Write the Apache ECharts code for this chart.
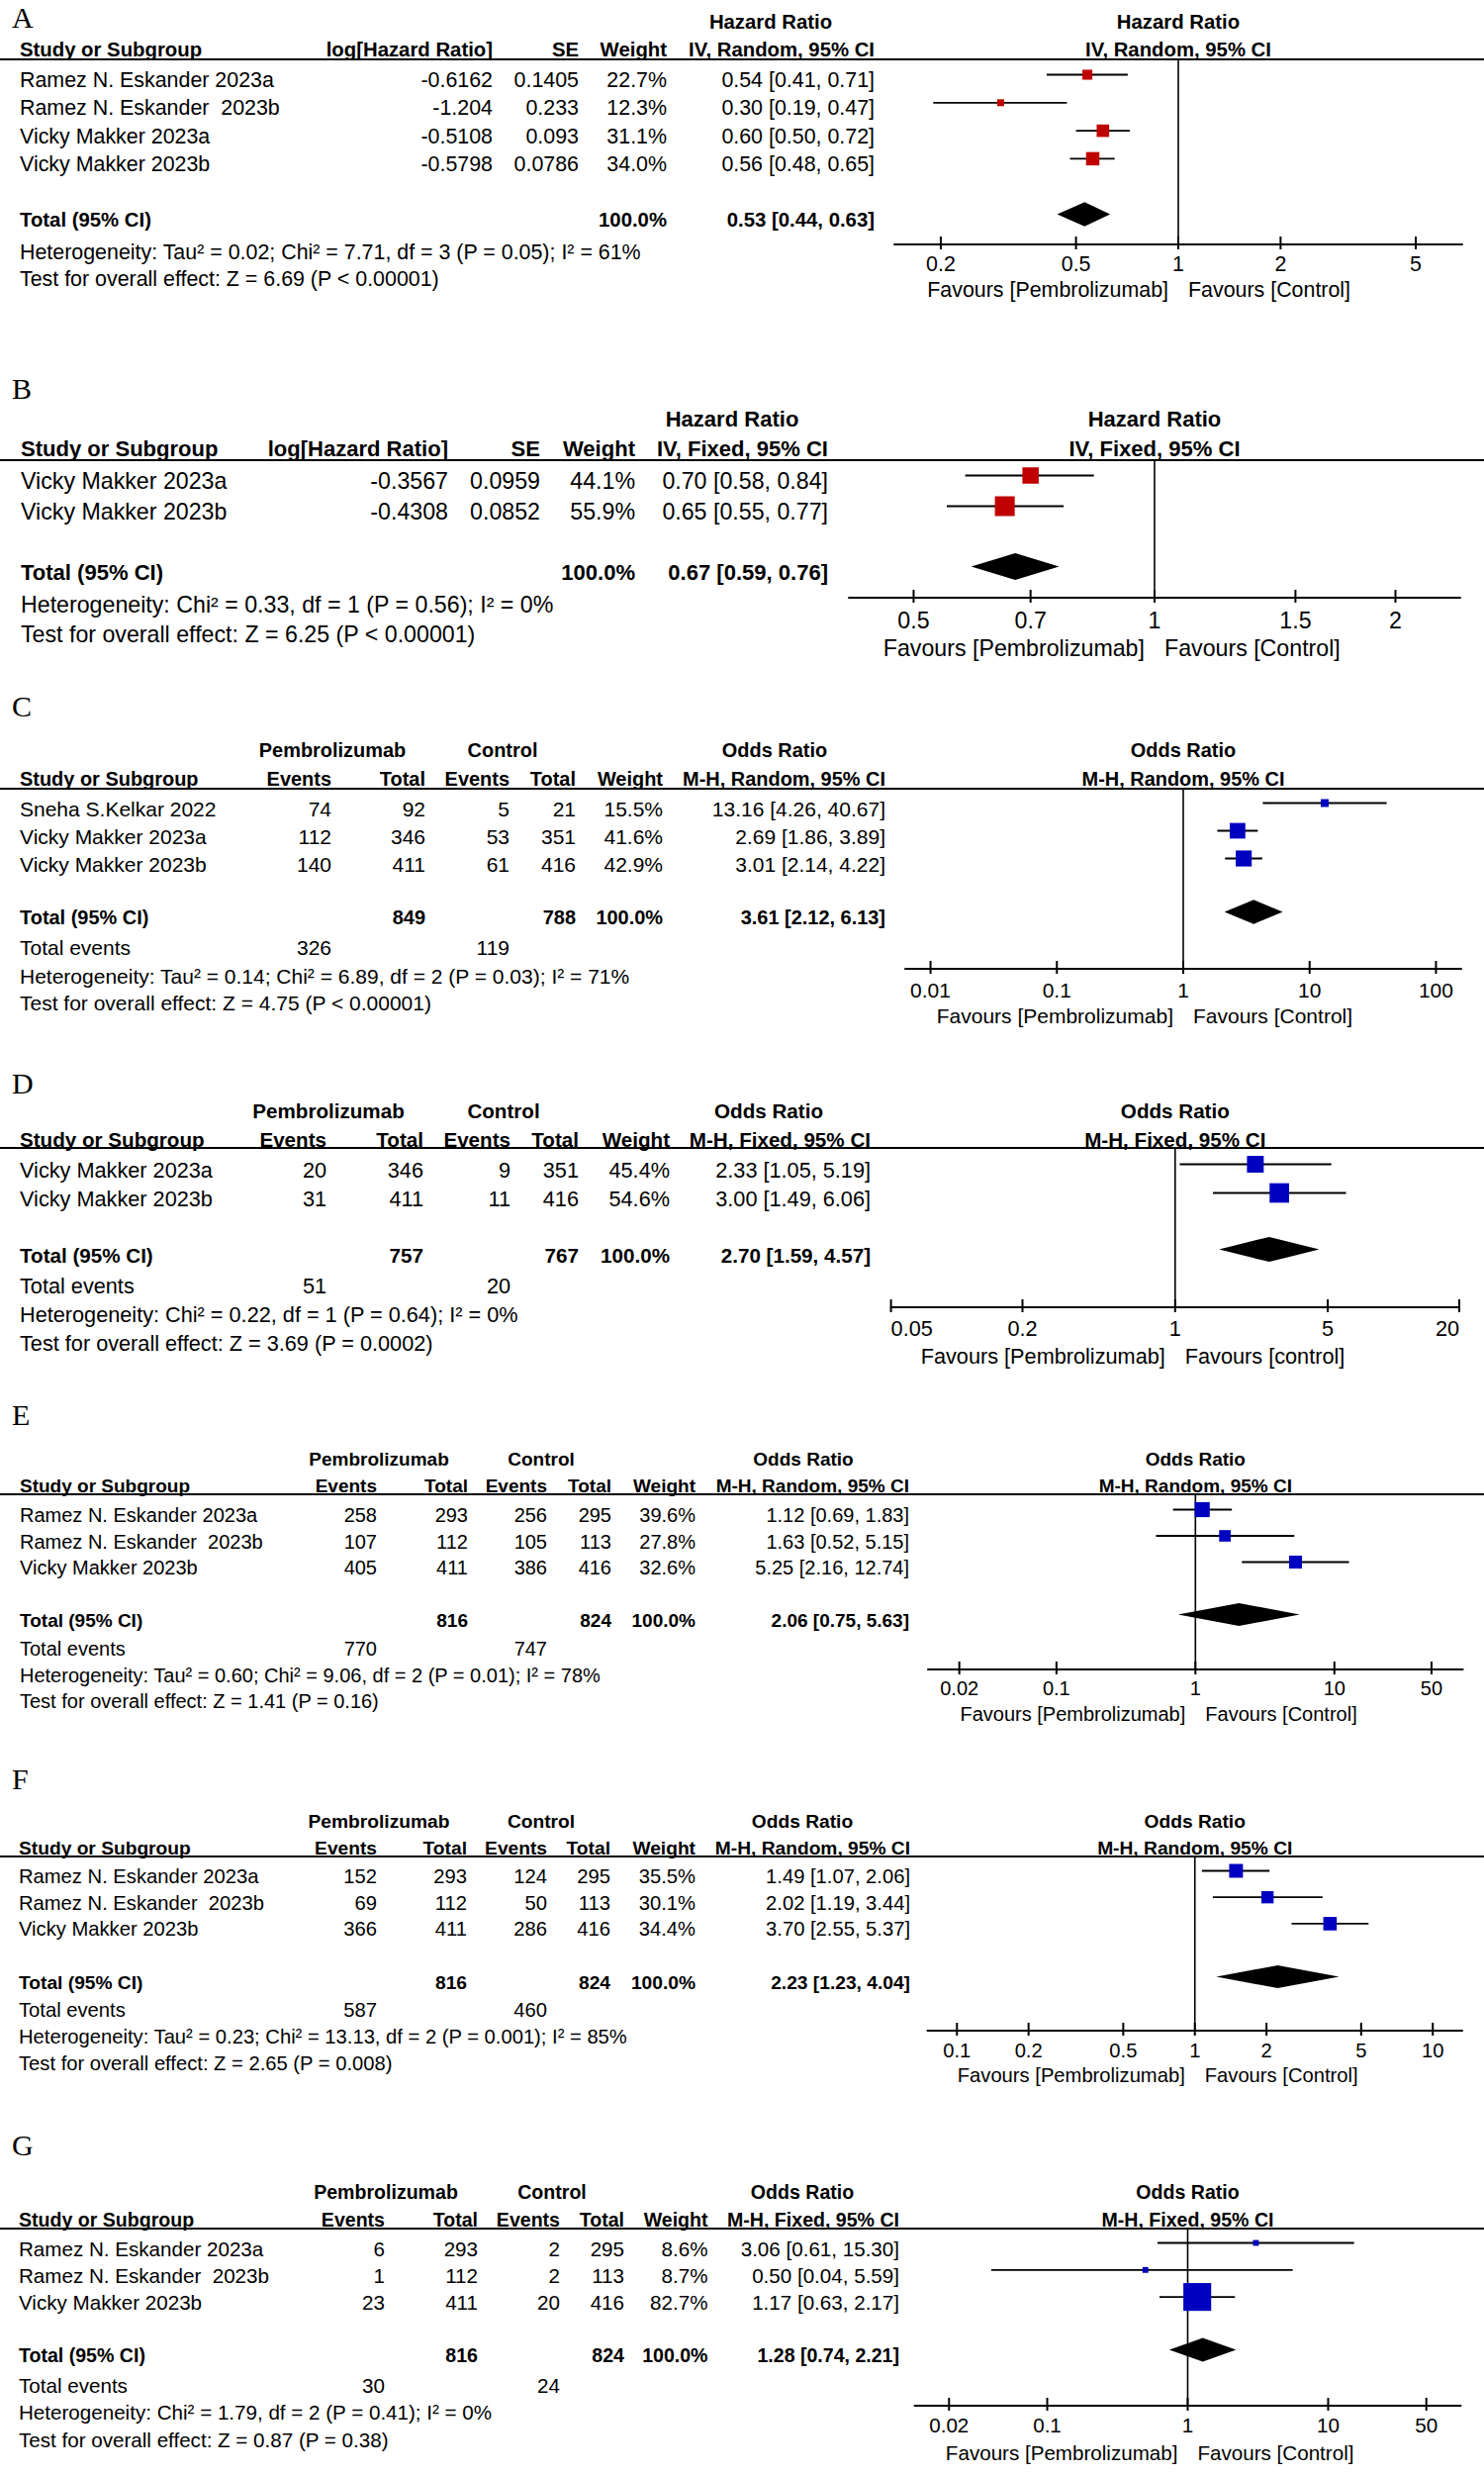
<!DOCTYPE html>
<html>
<head>
<meta charset="utf-8">
<script src="https://cdn.jsdelivr.net/npm/echarts/dist/echarts.min.js"></script>
<style>
html,body{margin:0;padding:0;background:#fff;}
#chart{width:1500px;height:2500px;}
</style>
</head>
<body>
<div id="chart"></div>
<script>
// ================= DATA =================
// Panel A
const A_names = ['Ramez N. Eskander 2023a', 'Ramez N. Eskander  2023b', 'Vicky Makker 2023a', 'Vicky Makker 2023b'];
const A_logHR = [-0.6162, -1.204, -0.5108, -0.5798];
const A_se = [0.1405, 0.233, 0.093, 0.0786];
const A_weight = [22.7, 12.3, 31.1, 34.0];
const A_est = [0.54, 0.30, 0.60, 0.56];
const A_lo = [0.41, 0.19, 0.50, 0.48];
const A_hi = [0.71, 0.47, 0.72, 0.65];
const A_total = [0.53, 0.44, 0.63];
const A_het = 'Heterogeneity: Tau² = 0.02; Chi² = 7.71, df = 3 (P = 0.05); I² = 61%';
const A_test = 'Test for overall effect: Z = 6.69 (P < 0.00001)';
const A_ticks = [0.2, 0.5, 1, 2, 5];
const A_tickLabels = ['0.2', '0.5', '1', '2', '5'];

// Panel B
const B_names = ['Vicky Makker 2023a', 'Vicky Makker 2023b'];
const B_logHR = [-0.3567, -0.4308];
const B_se = [0.0959, 0.0852];
const B_weight = [44.1, 55.9];
const B_est = [0.70, 0.65];
const B_lo = [0.58, 0.55];
const B_hi = [0.84, 0.77];
const B_total = [0.67, 0.59, 0.76];
const B_het = 'Heterogeneity: Chi² = 0.33, df = 1 (P = 0.56); I² = 0%';
const B_test = 'Test for overall effect: Z = 6.25 (P < 0.00001)';
const B_ticks = [0.5, 0.7, 1, 1.5, 2];
const B_tickLabels = ['0.5', '0.7', '1', '1.5', '2'];

// Panel C
const C_names = ['Sneha S.Kelkar 2022', 'Vicky Makker 2023a', 'Vicky Makker 2023b'];
const C_ev1 = [74, 112, 140];
const C_tot1 = [92, 346, 411];
const C_ev2 = [5, 53, 61];
const C_tot2 = [21, 351, 416];
const C_weight = [15.5, 41.6, 42.9];
const C_est = [13.16, 2.69, 3.01];
const C_lo = [4.26, 1.86, 2.14];
const C_hi = [40.67, 3.89, 4.22];
const C_sumTot = [849, 788];
const C_sumEv = [326, 119];
const C_total = [3.61, 2.12, 6.13];
const C_het = 'Heterogeneity: Tau² = 0.14; Chi² = 6.89, df = 2 (P = 0.03); I² = 71%';
const C_test = 'Test for overall effect: Z = 4.75 (P < 0.00001)';
const C_ticks = [0.01, 0.1, 1, 10, 100];
const C_tickLabels = ['0.01', '0.1', '1', '10', '100'];

// Panel D
const D_names = ['Vicky Makker 2023a', 'Vicky Makker 2023b'];
const D_ev1 = [20, 31];
const D_tot1 = [346, 411];
const D_ev2 = [9, 11];
const D_tot2 = [351, 416];
const D_weight = [45.4, 54.6];
const D_est = [2.33, 3.00];
const D_lo = [1.05, 1.49];
const D_hi = [5.19, 6.06];
const D_sumTot = [757, 767];
const D_sumEv = [51, 20];
const D_total = [2.70, 1.59, 4.57];
const D_het = 'Heterogeneity: Chi² = 0.22, df = 1 (P = 0.64); I² = 0%';
const D_test = 'Test for overall effect: Z = 3.69 (P = 0.0002)';
const D_ticks = [0.05, 0.2, 1, 5, 20];
const D_tickLabels = ['0.05', '0.2', '1', '5', '20'];

// Panel E
const E_names = ['Ramez N. Eskander 2023a', 'Ramez N. Eskander  2023b', 'Vicky Makker 2023b'];
const E_ev1 = [258, 107, 405];
const E_tot1 = [293, 112, 411];
const E_ev2 = [256, 105, 386];
const E_tot2 = [295, 113, 416];
const E_weight = [39.6, 27.8, 32.6];
const E_est = [1.12, 1.63, 5.25];
const E_lo = [0.69, 0.52, 2.16];
const E_hi = [1.83, 5.15, 12.74];
const E_sumTot = [816, 824];
const E_sumEv = [770, 747];
const E_total = [2.06, 0.75, 5.63];
const E_het = 'Heterogeneity: Tau² = 0.60; Chi² = 9.06, df = 2 (P = 0.01); I² = 78%';
const E_test = 'Test for overall effect: Z = 1.41 (P = 0.16)';
const E_ticks = [0.02, 0.1, 1, 10, 50];
const E_tickLabels = ['0.02', '0.1', '1', '10', '50'];

// Panel F
const F_names = ['Ramez N. Eskander 2023a', 'Ramez N. Eskander  2023b', 'Vicky Makker 2023b'];
const F_ev1 = [152, 69, 366];
const F_tot1 = [293, 112, 411];
const F_ev2 = [124, 50, 286];
const F_tot2 = [295, 113, 416];
const F_weight = [35.5, 30.1, 34.4];
const F_est = [1.49, 2.02, 3.70];
const F_lo = [1.07, 1.19, 2.55];
const F_hi = [2.06, 3.44, 5.37];
const F_sumTot = [816, 824];
const F_sumEv = [587, 460];
const F_total = [2.23, 1.23, 4.04];
const F_het = 'Heterogeneity: Tau² = 0.23; Chi² = 13.13, df = 2 (P = 0.001); I² = 85%';
const F_test = 'Test for overall effect: Z = 2.65 (P = 0.008)';
const F_ticks = [0.1, 0.2, 0.5, 1, 2, 5, 10];
const F_tickLabels = ['0.1', '0.2', '0.5', '1', '2', '5', '10'];

// Panel G
const G_names = ['Ramez N. Eskander 2023a', 'Ramez N. Eskander  2023b', 'Vicky Makker 2023b'];
const G_ev1 = [6, 1, 23];
const G_tot1 = [293, 112, 411];
const G_ev2 = [2, 2, 20];
const G_tot2 = [295, 113, 416];
const G_weight = [8.6, 8.7, 82.7];
const G_est = [3.06, 0.50, 1.17];
const G_lo = [0.61, 0.04, 0.63];
const G_hi = [15.30, 5.59, 2.17];
const G_sumTot = [816, 824];
const G_sumEv = [30, 24];
const G_total = [1.28, 0.74, 2.21];
const G_het = 'Heterogeneity: Chi² = 1.79, df = 2 (P = 0.41); I² = 0%';
const G_test = 'Test for overall effect: Z = 0.87 (P = 0.38)';
const G_ticks = [0.02, 0.1, 1, 10, 50];
const G_tickLabels = ['0.02', '0.1', '1', '10', '50'];

// ================= STYLE / LAYOUT =================
const RED = '#c00000', BLUE = '#0000c0';
const FONT = 'Liberation Sans, Arial, Helvetica, sans-serif';
const SERIF = 'Liberation Serif, Times New Roman, serif';
const FAV_P = 'Favours [Pembrolizumab]';
const BOLD_SCALE = 0.95;

const LAYOUT = {
  A: {font: 21.4, titleY: 17, rowY0: 81, rowH: 28.3, lineY: 60, axisY: 247, x0: 904, x1: 1478, xMin: 0.146, xMax: 6.85,
      yH1: 22, yH2: 50, yTotal: 222, yHet: 255, yTest: 282, tickDy: 20, favDy: 46,
      cols: {name: 20, c1: 498, c2: 585, weight: 674, ci: 884, hdr: 779}},
  B: {font: 23.2, titleY: 392, rowY0: 486, rowH: 31, lineY: 465, axisY: 604, x0: 858, x1: 1476, xMin: 0.415, xMax: 2.41,
      yH1: 423, yH2: 453, yTotal: 578, yHet: 611, yTest: 641, tickDy: 23, favDy: 51,
      cols: {name: 21, c1: 453, c2: 546, weight: 642, ci: 837, hdr: 740}},
  C: {font: 21, titleY: 713, rowY0: 817, rowH: 28, lineY: 797, axisY: 979, x0: 915, x1: 1477, xMin: 0.00631, xMax: 158.5,
      yH1: 758, yH2: 787, yTotal: 927, yEv: 957, yHet: 986, yTest: 1013, tickDy: 21, favDy: 47,
      cols: {name: 20, e1: 335, t1: 430, e2: 515, t2: 582, weight: 670, ci: 895, hP: 336, hC: 508, hOR: 783}},
  D: {font: 21.7, titleY: 1094, rowY0: 1182, rowH: 29, lineY: 1160, axisY: 1321, x0: 900.6, x1: 1475, xMin: 0.05, xMax: 20,
      yH1: 1122, yH2: 1151, yTotal: 1268, yEv: 1299, yHet: 1328, yTest: 1357, tickDy: 21, favDy: 49,
      cols: {name: 20, e1: 330, t1: 428, e2: 516, t2: 585, weight: 677, ci: 880, hP: 332, hC: 509, hOR: 777}},
  E: {font: 20, titleY: 1429, rowY0: 1531, rowH: 26.5, lineY: 1510, axisY: 1687, x0: 938, x1: 1478.6, xMin: 0.0119, xMax: 84,
      yH1: 1474, yH2: 1501, yTotal: 1637, yEv: 1666, yHet: 1693, yTest: 1719, tickDy: 19, favDy: 45,
      cols: {name: 20, e1: 381, t1: 473, e2: 553, t2: 618, weight: 703, ci: 919, hP: 383, hC: 547, hOR: 812}},
  F: {font: 20.2, titleY: 1797, rowY0: 1896, rowH: 26.7, lineY: 1876, axisY: 2052, x0: 937.5, x1: 1478, xMin: 0.0752, xMax: 13.3,
      yH1: 1840, yH2: 1867, yTotal: 2003, yEv: 2031, yHet: 2058, yTest: 2085, tickDy: 20, favDy: 45,
      cols: {name: 19, e1: 381, t1: 472, e2: 553, t2: 617, weight: 703, ci: 920, hP: 383, hC: 547, hOR: 811}},
  G: {font: 20.6, titleY: 2167, rowY0: 2272, rowH: 27.3, lineY: 2252, axisY: 2431, x0: 924.5, x1: 1476.5, xMin: 0.01138, xMax: 87.9,
      yH1: 2215, yH2: 2243, yTotal: 2380, yEv: 2410, yHet: 2437, yTest: 2465, tickDy: 19, favDy: 47,
      cols: {name: 19, e1: 389, t1: 483, e2: 566, t2: 631, weight: 715.5, ci: 909, hP: 390, hC: 558, hOR: 811}}
};

const panels = [
  {id: 'A', kind: 'HR', color: RED, measure: 'Hazard Ratio', method: 'IV, Random, 95% CI', names: A_names, c1: A_logHR, c2: A_se,
   weight: A_weight, est: A_est, lo: A_lo, hi: A_hi, total: A_total, het: A_het, test: A_test, ticks: A_ticks, tickLabels: A_tickLabels,
   favL: FAV_P, favR: 'Favours [Control]'},
  {id: 'B', kind: 'HR', color: RED, measure: 'Hazard Ratio', method: 'IV, Fixed, 95% CI', names: B_names, c1: B_logHR, c2: B_se,
   weight: B_weight, est: B_est, lo: B_lo, hi: B_hi, total: B_total, het: B_het, test: B_test, ticks: B_ticks, tickLabels: B_tickLabels,
   favL: FAV_P, favR: 'Favours [Control]'},
  {id: 'C', kind: 'OR', color: BLUE, measure: 'Odds Ratio', method: 'M-H, Random, 95% CI', names: C_names, ev1: C_ev1, tot1: C_tot1,
   ev2: C_ev2, tot2: C_tot2, weight: C_weight, est: C_est, lo: C_lo, hi: C_hi, sumTot: C_sumTot, sumEv: C_sumEv, total: C_total,
   het: C_het, test: C_test, ticks: C_ticks, tickLabels: C_tickLabels, favL: FAV_P, favR: 'Favours [Control]'},
  {id: 'D', kind: 'OR', color: BLUE, measure: 'Odds Ratio', method: 'M-H, Fixed, 95% CI', names: D_names, ev1: D_ev1, tot1: D_tot1,
   ev2: D_ev2, tot2: D_tot2, weight: D_weight, est: D_est, lo: D_lo, hi: D_hi, sumTot: D_sumTot, sumEv: D_sumEv, total: D_total,
   het: D_het, test: D_test, ticks: D_ticks, tickLabels: D_tickLabels, favL: FAV_P, favR: 'Favours [control]'},
  {id: 'E', kind: 'OR', color: BLUE, measure: 'Odds Ratio', method: 'M-H, Random, 95% CI', names: E_names, ev1: E_ev1, tot1: E_tot1,
   ev2: E_ev2, tot2: E_tot2, weight: E_weight, est: E_est, lo: E_lo, hi: E_hi, sumTot: E_sumTot, sumEv: E_sumEv, total: E_total,
   het: E_het, test: E_test, ticks: E_ticks, tickLabels: E_tickLabels, favL: FAV_P, favR: 'Favours [Control]'},
  {id: 'F', kind: 'OR', color: BLUE, measure: 'Odds Ratio', method: 'M-H, Random, 95% CI', names: F_names, ev1: F_ev1, tot1: F_tot1,
   ev2: F_ev2, tot2: F_tot2, weight: F_weight, est: F_est, lo: F_lo, hi: F_hi, sumTot: F_sumTot, sumEv: F_sumEv, total: F_total,
   het: F_het, test: F_test, ticks: F_ticks, tickLabels: F_tickLabels, favL: FAV_P, favR: 'Favours [Control]'},
  {id: 'G', kind: 'OR', color: BLUE, measure: 'Odds Ratio', method: 'M-H, Fixed, 95% CI', names: G_names, ev1: G_ev1, tot1: G_tot1,
   ev2: G_ev2, tot2: G_tot2, weight: G_weight, est: G_est, lo: G_lo, hi: G_hi, sumTot: G_sumTot, sumEv: G_sumEv, total: G_total,
   het: G_het, test: G_test, ticks: G_ticks, tickLabels: G_tickLabels, favL: FAV_P, favR: 'Favours [Control]'}
];

const MARKER_DY = -5.5;
function fmtCI(e, l, h) { return e.toFixed(2) + ' [' + l.toFixed(2) + ', ' + h.toFixed(2) + ']'; }
function fmtW(w) { return w.toFixed(1) + '%'; }
function squareSide(w) { return 0.3 * w + 3.3; }

// ================= BUILD =================
const grids = [], xAxes = [], yAxes = [], series = [], graphics = [];

panels.forEach(function (p, k) {
  const L = LAYOUT[p.id];
  const c = L.cols;
  const yMin = (L.lineY - L.rowY0) / L.rowH;
  const yMax = (L.axisY - L.rowY0) / L.rowH;
  const toRow = function (y) { return (y - L.rowY0) / L.rowH; };
  const fsz = function (bold) { return bold ? L.font * BOLD_SCALE : L.font; };

  grids.push({left: L.x0, top: L.lineY, width: L.x1 - L.x0, height: L.axisY - L.lineY, containLabel: false});
  xAxes.push({
    type: 'log', logBase: 10, gridIndex: k, min: L.xMin, max: L.xMax,
    axisLine: {show: true, onZero: false, lineStyle: {color: '#000', width: 2}},
    axisTick: {show: false}, axisLabel: {show: false}, splitLine: {show: false}, minorTick: {show: false}
  });
  yAxes.push({type: 'value', gridIndex: k, inverse: true, min: yMin, max: yMax, show: false, splitLine: {show: false}});

  // ---- table cells ----
  const cells = [];
  const add = function (text, x, r, align, bold) { cells.push({text: String(text), x: x, r: r, align: align, bold: !!bold}); };
  const r1 = toRow(L.yH1), r2 = toRow(L.yH2), rT = toRow(L.yTotal), rH = toRow(L.yHet), rS = toRow(L.yTest);
  if (p.kind === 'HR') {
    add(p.measure, c.hdr, r1, 'center', true);
    add('Study or Subgroup', c.name, r2, 'left', true);
    add('log[Hazard Ratio]', c.c1, r2, 'right', true);
    add('SE', c.c2, r2, 'right', true);
    add('Weight', c.weight, r2, 'right', true);
    add(p.method, c.ci, r2, 'right', true);
    p.names.forEach(function (n, i) {
      add(n, c.name, i, 'left');
      add(p.c1[i], c.c1, i, 'right');
      add(p.c2[i], c.c2, i, 'right');
      add(fmtW(p.weight[i]), c.weight, i, 'right');
      add(fmtCI(p.est[i], p.lo[i], p.hi[i]), c.ci, i, 'right');
    });
    add('Total (95% CI)', c.name, rT, 'left', true);
    add('100.0%', c.weight, rT, 'right', true);
    add(fmtCI(p.total[0], p.total[1], p.total[2]), c.ci, rT, 'right', true);
  } else {
    add('Pembrolizumab', c.hP, r1, 'center', true);
    add('Control', c.hC, r1, 'center', true);
    add(p.measure, c.hOR, r1, 'center', true);
    add('Study or Subgroup', c.name, r2, 'left', true);
    add('Events', c.e1, r2, 'right', true);
    add('Total', c.t1, r2, 'right', true);
    add('Events', c.e2, r2, 'right', true);
    add('Total', c.t2, r2, 'right', true);
    add('Weight', c.weight, r2, 'right', true);
    add(p.method, c.ci, r2, 'right', true);
    p.names.forEach(function (n, i) {
      add(n, c.name, i, 'left');
      add(p.ev1[i], c.e1, i, 'right');
      add(p.tot1[i], c.t1, i, 'right');
      add(p.ev2[i], c.e2, i, 'right');
      add(p.tot2[i], c.t2, i, 'right');
      add(fmtW(p.weight[i]), c.weight, i, 'right');
      add(fmtCI(p.est[i], p.lo[i], p.hi[i]), c.ci, i, 'right');
    });
    add('Total (95% CI)', c.name, rT, 'left', true);
    add(p.sumTot[0], c.t1, rT, 'right', true);
    add(p.sumTot[1], c.t2, rT, 'right', true);
    add('100.0%', c.weight, rT, 'right', true);
    add(fmtCI(p.total[0], p.total[1], p.total[2]), c.ci, rT, 'right', true);
    const rE = toRow(L.yEv);
    add('Total events', c.name, rE, 'left');
    add(p.sumEv[0], c.e1, rE, 'right');
    add(p.sumEv[1], c.e2, rE, 'right');
  }
  add(p.het, c.name, rH, 'left');
  add(p.test, c.name, rS, 'left');

  series.push({
    type: 'custom', name: p.id + '-table', xAxisIndex: k, yAxisIndex: k, silent: true, clip: false,
    data: cells.map(function (cl) { return [1, cl.r]; }),
    renderItem: function (params, api) {
      const cl = cells[params.dataIndex];
      const pt = api.coord([api.value(0), api.value(1)]);
      return {type: 'text', x: cl.x, y: pt[1], silent: true,
        style: {text: cl.text, fill: '#000', fontSize: fsz(cl.bold), fontFamily: FONT, fontWeight: cl.bold ? 'bold' : 'normal',
                align: cl.align, verticalAlign: 'middle'}};
    }
  });

  // ---- forest header + favours text (anchored on x = 1) ----
  const rFav = toRow(L.axisY + L.favDy);
  const ftext = [
    {text: p.measure, r: r1, dx: 0, align: 'center', bold: true},
    {text: p.method, r: r2, dx: 0, align: 'center', bold: true},
    {text: p.favL, r: rFav, dx: -10, align: 'right', bold: false},
    {text: p.favR, r: rFav, dx: 10, align: 'left', bold: false}
  ];
  series.push({
    type: 'custom', name: p.id + '-forestText', xAxisIndex: k, yAxisIndex: k, silent: true, clip: false,
    data: ftext.map(function (t) { return [1, t.r]; }),
    renderItem: function (params, api) {
      const t = ftext[params.dataIndex];
      const pt = api.coord([api.value(0), api.value(1)]);
      return {type: 'text', x: pt[0] + t.dx, y: pt[1], silent: true,
        style: {text: t.text, fill: '#000', fontSize: fsz(t.bold), fontFamily: FONT, fontWeight: t.bold ? 'bold' : 'normal',
                align: t.align, verticalAlign: 'middle'}};
    }
  });

  // ---- vertical line of no effect ----
  series.push({
    type: 'custom', name: p.id + '-ref', xAxisIndex: k, yAxisIndex: k, silent: true, clip: false,
    data: [[1, yMin, yMax]],
    renderItem: function (params, api) {
      const a = api.coord([api.value(0), api.value(1)]);
      const b = api.coord([api.value(0), api.value(2)]);
      return {type: 'line', shape: {x1: a[0], y1: a[1], x2: b[0], y2: b[1]}, style: {stroke: '#000', lineWidth: 1.6}};
    }
  });

  // ---- axis ticks and labels ----
  series.push({
    type: 'custom', name: p.id + '-ticks', xAxisIndex: k, yAxisIndex: k, silent: true, clip: false,
    data: p.ticks.map(function (v) { return [v, yMax]; }),
    renderItem: function (params, api) {
      const pt = api.coord([api.value(0), api.value(1)]);
      let align = 'center';
      if (pt[0] - L.x0 < 6) align = 'left';
      else if (L.x1 - pt[0] < 6) align = 'right';
      return {type: 'group', children: [
        {type: 'line', shape: {x1: pt[0], y1: pt[1] - 8, x2: pt[0], y2: pt[1] + 5}, style: {stroke: '#000', lineWidth: 2}},
        {type: 'text', x: pt[0], y: pt[1] + L.tickDy,
         style: {text: p.tickLabels[params.dataIndex], fill: '#000', fontSize: L.font, fontFamily: FONT, align: align, verticalAlign: 'middle'}}
      ]};
    }
  });

  // ---- study markers ----
  series.push({
    type: 'custom', name: p.id + '-studies', xAxisIndex: k, yAxisIndex: k, silent: true, clip: false,
    data: p.est.map(function (e, i) { return [e, i, p.lo[i], p.hi[i], p.weight[i]]; }),
    renderItem: function (params, api) {
      const c0 = api.coord([api.value(0), api.value(1)]);
      const cl = api.coord([api.value(2), api.value(1)]);
      const ch = api.coord([api.value(3), api.value(1)]);
      const y = c0[1] + MARKER_DY;
      const s = squareSide(api.value(4));
      return {type: 'group', children: [
        {type: 'line', shape: {x1: cl[0], y1: y, x2: ch[0], y2: y}, style: {stroke: '#000', lineWidth: 1.8}},
        {type: 'rect', shape: {x: c0[0] - s / 2, y: y - s / 2, width: s, height: s}, style: {fill: p.color}}
      ]};
    }
  });

  // ---- pooled diamond ----
  series.push({
    type: 'custom', name: p.id + '-total', xAxisIndex: k, yAxisIndex: k, silent: true, clip: false,
    data: [[p.total[0], rT, p.total[1], p.total[2]]],
    renderItem: function (params, api) {
      const ce = api.coord([api.value(0), api.value(1)]);
      const cl = api.coord([api.value(2), api.value(1)]);
      const ch = api.coord([api.value(3), api.value(1)]);
      const y = ce[1] + MARKER_DY;
      const h = 0.87 * L.rowH;
      return {type: 'polygon', shape: {points: [[cl[0], y], [ce[0], y - h / 2], [ch[0], y], [ce[0], y + h / 2]]},
              style: {fill: '#000'}};
    }
  });

  // ---- panel letter and header rule ----
  graphics.push({type: 'text', x: 12, y: L.titleY, silent: true,
    style: {text: p.id, fill: '#000', fontSize: 30, fontFamily: SERIF, align: 'left', verticalAlign: 'middle'}});
  graphics.push({type: 'line', silent: true, shape: {x1: 0, y1: L.lineY, x2: 1500, y2: L.lineY},
    style: {stroke: '#000', lineWidth: 2}});
});

const chart = echarts.init(document.getElementById('chart'), null, {renderer: 'svg', width: 1500, height: 2500});
chart.setOption({
  backgroundColor: '#ffffff',
  animation: false,
  grid: grids,
  xAxis: xAxes,
  yAxis: yAxes,
  series: series,
  graphic: {elements: graphics}
});
</script>
</body>
</html>
